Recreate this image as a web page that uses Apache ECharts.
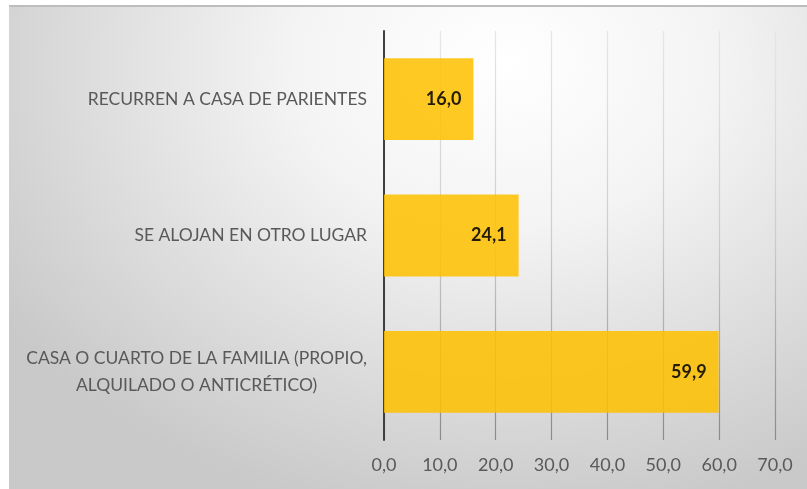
<!DOCTYPE html>
<html>
<head>
<meta charset="utf-8">
<script src="https://cdn.jsdelivr.net/npm/echarts@6/dist/echarts.min.js"></script>
<style>
  html, body {margin: 0; padding: 0; background: #ffffff;}
  #chartContainer {
    position: absolute; left: 9px; top: 5px; width: 798px; height: 484px;
    background: radial-gradient(ellipse 75% 95% at 62% 12%, #ffffff 0%, #f4f4f4 35%, #d6d6d6 80%, #c9c9c9 100%);
    box-shadow: inset 0 2px 0 #bdbdbd;
  }
</style>
</head>
<body>
<div id="chartContainer"></div>
<script>
// categories bottom -> top
var categories = [
    'CASA O CUARTO DE LA FAMILIA (PROPIO,\nALQUILADO O ANTICRÉTICO)',
    'SE ALOJAN EN OTRO LUGAR',
    'RECURREN A CASA DE PARIENTES'
];
var values = [59.9, 24.1, 16.0];
var xTicks = [0, 10, 20, 30, 40, 50, 60, 70];

function fmt(v) {
    return v.toFixed(1).replace('.', ',');
}

var myChart = echarts.init(document.getElementById('chartContainer'));

myChart.setOption({
    animation: false,
    grid: {left: 375, right: 32, top: 26, bottom: 49, containLabel: false},
    xAxis: {
        type: 'value',
        min: xTicks[0],
        max: xTicks[xTicks.length - 1],
        interval: 10,
        axisLine: {show: false},
        axisTick: {show: false},
        axisLabel: {
            color: '#595959',
            fontSize: 18,
            fontFamily: 'Lato',
            margin: 16,
            formatter: function(v) { return fmt(v); }
        },
        splitLine: {
            show: true,
            lineStyle: {
                width: 1.2,
                color: new echarts.graphic.LinearGradient(0, 26, 0, 435, [
                    {offset: 0, color: '#e6e6e6'},
                    {offset: 0.5, color: '#cdcdcd'},
                    {offset: 1, color: '#8a8a8a'}
                ], true)
            }
        }
    },
    yAxis: {
        type: 'category',
        data: categories,
        axisLine: {show: true, lineStyle: {color: '#3f3f3f', width: 2}},
        axisTick: {show: false},
        axisLabel: {
            color: '#595959',
            fontSize: 17.5,
            fontFamily: 'Lato',
            margin: 17,
            lineHeight: 27,
            formatter: function(v) {
                return v.split('\n').map(function(s) { return '{c|' + s + '}'; }).join('\n');
            },
            rich: {c: {align: 'center', color: '#595959', fontSize: 17.5, fontFamily: 'Lato', lineHeight: 27}}
        }
    },
    series: [{
        type: 'bar',
        data: values,
        barWidth: '60%',
        itemStyle: {color: '#ffc000', opacity: 0.86},
        label: {
            show: true,
            position: 'insideRight',
            distance: 12,
            color: '#000000',
            fontWeight: 'bold',
            fontSize: 18,
            fontFamily: 'Lato',
            formatter: function(p) { return fmt(p.value); }
        }
    }]
});
window.onresize = myChart.resize;
</script>
</body>
</html>
